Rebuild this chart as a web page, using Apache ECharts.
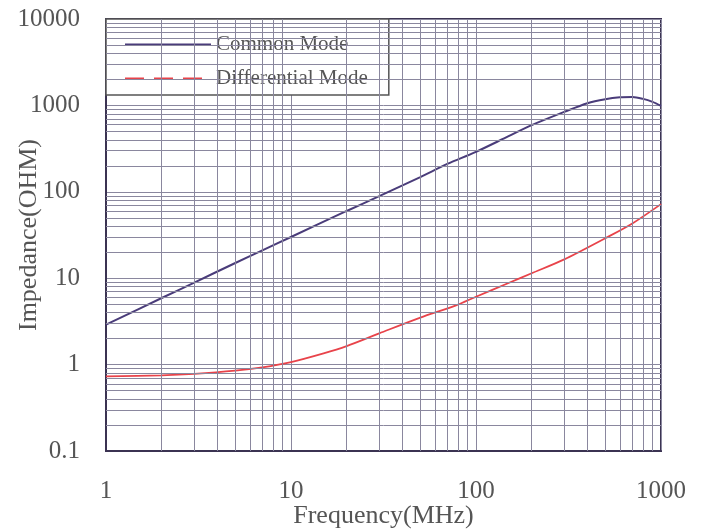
<!DOCTYPE html>
<html>
<head>
<meta charset="utf-8">
<script src="https://cdn.jsdelivr.net/npm/echarts@6/dist/echarts.min.js"></script>
<style>html,body{margin:0;padding:0;background:#fff;}#c{width:709px;height:529px;}</style>
</head>
<body>
<div id="c"></div>
<script>
var xTicks = [1, 10, 100, 1000];
var yTicks = [0.1, 1, 10, 100, 1000, 10000];
var commonFreq = [1, 2, 3, 5, 7, 10, 20, 30, 50, 70, 100, 150, 200, 300, 400, 500, 600, 700, 800, 900, 1000];
var commonZ =    [2.9, 5.9, 8.9, 15, 21, 30, 60, 89, 148, 210, 290, 440, 590, 840, 1060, 1180, 1240, 1250, 1190, 1100, 990];
var diffFreq = [1, 2, 3, 5, 7, 10, 15, 20, 30, 50, 78, 100, 150, 200, 300, 500, 700, 1000];
var diffZ =    [0.73, 0.75, 0.78, 0.85, 0.93, 1.07, 1.35, 1.64, 2.3, 3.5, 4.85, 6.1, 8.8, 11.4, 16.5, 29, 43, 72];

function minorValues(ticks) {
  var out = [];
  for (var i = 0; i < ticks.length - 1; i++) {
    for (var k = 2; k <= 9; k++) out.push(+(ticks[i] * k).toPrecision(6));
  }
  return out;
}
var xMinor = minorValues(xTicks);
var yMinor = minorValues(yTicks);

var gridColor = '#8a879e';
var frameColor = '#3b3352';
var textColor = '#555';
var font = 'Liberation Serif';

var markData = [];
xMinor.forEach(function (v) { markData.push({ xAxis: v }); });
yMinor.forEach(function (v) { markData.push({ yAxis: v }); });

function zip(a, b) { return a.map(function (v, i) { return [v, b[i]]; }); }

var chart = echarts.init(document.getElementById('c'));
chart.setOption({
  animation: false,
  backgroundColor: '#fff',
  grid: { left: 106, right: 48, top: 19, bottom: 78, containLabel: false, outerBoundsMode: 'none', show: true, borderColor: frameColor, borderWidth: 2, backgroundColor: 'transparent' },
  legend: {
    show: true, type: 'plain', orient: 'vertical', left: 106, top: 19, right: 'auto', bottom: 'auto',
    padding: [15, 21, 6, 18], itemGap: 13, itemWidth: 86, itemHeight: 14,
    backgroundColor: '#fff', borderColor: '#555', borderWidth: 1.5,
    textStyle: { fontFamily: font, fontSize: 21, color: textColor },
    data: [
      { name: 'Common Mode', itemStyle: { opacity: 0 } },
      { name: 'Differential Mode', itemStyle: { opacity: 0 }, lineStyle: { type: [19, 10] } }
    ]
  },
  xAxis: {
    type: 'log', logBase: 10, min: 1, max: 1000,
    name: 'Frequency(MHz)', nameLocation: 'middle', nameGap: 52, nameMoveOverlap: false,
    nameTextStyle: { fontFamily: font, fontSize: 26, color: textColor },
    axisLine: { show: true, lineStyle: { color: frameColor, width: 2 } },
    axisTick: { show: false },
    axisLabel: { fontFamily: font, fontSize: 25, color: textColor, margin: 28, formatter: function (v) { return String(v); } },
    splitLine: { show: true, lineStyle: { color: gridColor, width: 1 } }
  },
  yAxis: {
    type: 'log', logBase: 10, min: 0.1, max: 10000,
    name: 'Impedance(OHM)', nameLocation: 'middle', nameGap: 64, nameMoveOverlap: false,
    nameTextStyle: { fontFamily: font, fontSize: 26, color: textColor },
    axisLine: { show: true, lineStyle: { color: frameColor, width: 2 } },
    axisTick: { show: false },
    axisLabel: { fontFamily: font, fontSize: 25, color: textColor, margin: 26, formatter: function (v) { return String(+v.toPrecision(6)); } },
    splitLine: { show: true, lineStyle: { color: gridColor, width: 1 } }
  },
  series: [
    {
      name: '_grid', type: 'line', data: [], z: 1, silent: true,
      markLine: {
        silent: true, symbol: ['none', 'none'], animation: false,
        label: { show: false },
        lineStyle: { color: gridColor, width: 1, type: 'solid' },
        emphasis: { disabled: true },
        data: markData
      }
    },
    {
      name: 'Common Mode', type: 'line', z: 3, showSymbol: false, symbol: 'none', smooth: 0.3,
      data: zip(commonFreq, commonZ),
      lineStyle: { color: '#4a3c7a', width: 2 }, itemStyle: { color: '#4a3c7a' }
    },
    {
      name: 'Differential Mode', type: 'line', z: 3, showSymbol: false, symbol: 'none', smooth: 0.3,
      data: zip(diffFreq, diffZ),
      lineStyle: { color: '#e8434a', width: 1.8 }, itemStyle: { color: '#e8434a' }
    }
  ]
});
</script>
</body>
</html>
